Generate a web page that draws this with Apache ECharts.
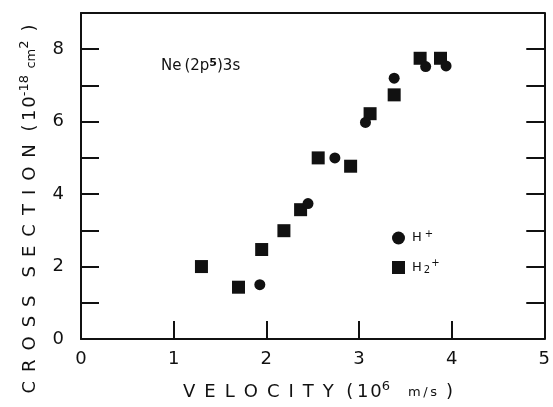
<!DOCTYPE html>
<html>
<head>
<meta charset="utf-8">
<script src="https://cdn.jsdelivr.net/npm/echarts@6/dist/echarts.min.js"></script>
<style>
  html, body { margin: 0; padding: 0; background: #fff; }
  #chart { width: 553px; height: 407px; }
</style>
</head>
<body>
<div id="chart"></div>
<script>
// Excitation cross section of Ne (2p5)3s versus projectile velocity
const hPlusVelocity = [1.93, 2.45, 2.74, 3.07, 3.38, 3.72, 3.94];
const hPlusSection  = [1.50, 3.74, 5.00, 5.98, 7.20, 7.52, 7.54];

const h2PlusVelocity = [1.30, 1.70, 1.95, 2.19, 2.37, 2.56, 2.91, 3.12, 3.38, 3.66, 3.88];
const h2PlusSection  = [2.00, 1.43, 2.47, 2.99, 3.57, 5.00, 4.77, 6.22, 6.74, 7.75, 7.75];

const xTicks = [0, 1, 2, 3, 4, 5];
const yTickLabels = [0, 2, 4, 6, 8];

const FONT = '"DejaVu Sans", "Liberation Sans", Arial, sans-serif';
const INK = '#111';

// spaced lettering for the axis titles
const SP = '\u2002';
const spaced = s => s.split('').join(SP);

function pairs(xs, ys) {
  return xs.map((x, i) => [x, ys[i]]);
}

const chart = echarts.init(document.getElementById('chart'), null, { renderer: 'canvas' });

const tickStyle = { show: true, inside: true, length: 18, lineStyle: { color: INK, width: 2 } };
const lineStyle = { show: true, onZero: false, lineStyle: { color: INK, width: 2 } };

chart.setOption({
  backgroundColor: '#fff',
  animation: false,
  grid: { left: 81, right: 6, top: 13, bottom: 68 },
  xAxis: [
    {
      type: 'value', min: xTicks[0], max: xTicks[xTicks.length - 1], interval: 1,
      axisLine: lineStyle, axisTick: tickStyle, splitLine: { show: false },
      axisLabel: { color: INK, fontFamily: FONT, fontSize: 18, margin: 11 }
    },
    {
      type: 'value', position: 'top', min: 0, max: 5, interval: 1,
      axisLine: lineStyle, axisTick: { show: false }, axisLabel: { show: false }, splitLine: { show: false }
    }
  ],
  yAxis: [
    {
      type: 'value', min: 0, max: 9, interval: 1,
      axisLine: lineStyle, axisTick: tickStyle, splitLine: { show: false },
      axisLabel: {
        color: INK, fontFamily: FONT, fontSize: 18, margin: 17,
        formatter: v => (yTickLabels.indexOf(v) >= 0 ? String(v) : '')
      }
    },
    {
      type: 'value', position: 'right', min: 0, max: 9, interval: 1,
      axisLine: lineStyle, axisTick: tickStyle, axisLabel: { show: false }, splitLine: { show: false }
    }
  ],
  legend: {
    orient: 'vertical', left: 387, top: 224, itemGap: 14,
    itemWidth: 13, itemHeight: 13,
    data: [
      { name: 'H+', icon: 'circle', itemStyle: { color: INK } },
      { name: 'H2+', icon: 'rect', itemStyle: { color: INK } }
    ],
    formatter: name => (name === 'H+' ? '{a|H}{p|+}' : '{a|H}{b|2}{p|+}'),
    textStyle: {
      color: INK, fontFamily: FONT, fontSize: 13,
      rich: {
        a: { fontFamily: FONT, fontSize: 13, fill: INK, padding: [0, 2, 0, 2] },
        p: { fontFamily: FONT, fontSize: 10, fill: INK, padding: [0, 0, 8, 1] },
        b: { fontFamily: FONT, fontSize: 10, fill: INK, padding: [6, 0, 0, 0] }
      }
    }
  },
  series: [
    {
      name: 'H+', type: 'scatter', symbol: 'circle', symbolSize: 11,
      itemStyle: { color: INK, opacity: 1 },
      data: pairs(hPlusVelocity, hPlusSection), z: 3
    },
    {
      name: 'H2+', type: 'scatter', symbol: 'rect', symbolSize: 13,
      itemStyle: { color: INK, opacity: 1 },
      data: pairs(h2PlusVelocity, h2PlusSection), z: 2
    }
  ],
  graphic: [
    {
      type: 'text', left: 161, top: 58,
      style: {
        text: '{a|Ne\u2009(2p}{s|5}{a|)3s}',
        rich: {
          a: { fontFamily: FONT, fontSize: 15, fill: INK },
          s: { fontFamily: FONT, fontSize: 11, fontWeight: 'bold', fill: INK, padding: [0, 0, 6, 0] }
        }
      }
    },
    {
      type: 'text', x: 318, y: 392,
      style: {
        text: '{a|' + spaced('VELOCITY') + '\u2002\u2009(\u20091\u200A0}{s|6}{a|\u2003}{m|m\u2009/\u2009s}{a|\u2002)}',
        align: 'center', verticalAlign: 'middle',
        rich: {
          a: { fontFamily: FONT, fontSize: 18, fill: INK },
          s: { fontFamily: FONT, fontSize: 13, fill: INK, padding: [0, 0, 10, 0] },
          m: { fontFamily: FONT, fontSize: 13, fill: INK, padding: [2, 0, 0, 0] }
        }
      }
    },
    {
      type: 'text', x: 30, y: 209, rotation: Math.PI / 2,
      style: {
        text: '{a|' + spaced('CROSS') + '\u2003' + spaced('SECTION') + '\u2002\u2009(\u20091\u200A0}{s|-18}{c|\u2002cm}{s|2}{a|\u2002)}',
        align: 'center', verticalAlign: 'middle',
        rich: {
          a: { fontFamily: FONT, fontSize: 18, fill: INK },
          s: { fontFamily: FONT, fontSize: 13, fill: INK, padding: [0, 0, 10, 0] },
          c: { fontFamily: FONT, fontSize: 13, fill: INK, padding: [4, 0, 0, 0] }
        }
      }
    }
  ]
});
</script>
</body>
</html>
